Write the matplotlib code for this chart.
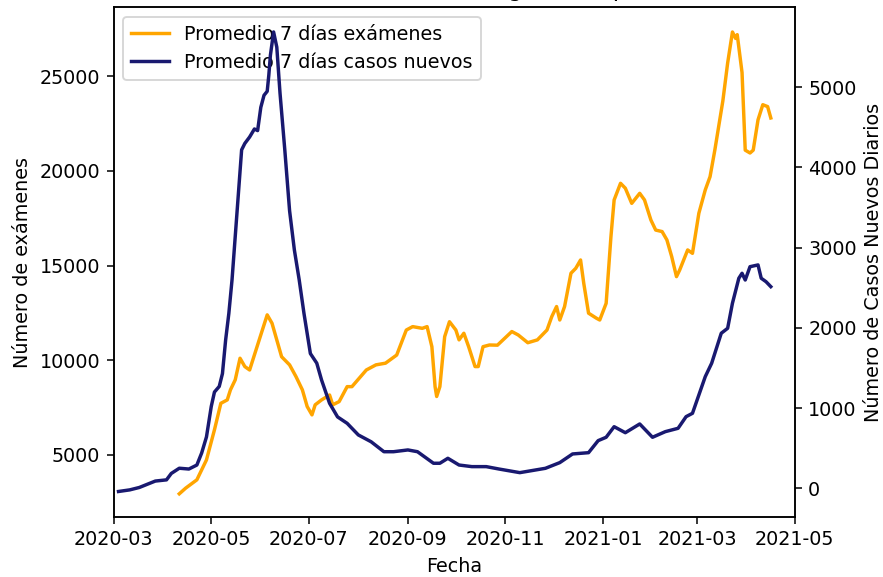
import pandas as pd
import matplotlib
matplotlib.use('Agg')
from matplotlib import pyplot as plt
import matplotlib.dates as mdates

# promedio 7 dias examenes (eje izquierdo)
fechas_examenes = ['2020-04-11', '2020-04-15', '2020-04-22', '2020-04-28', '2020-05-03', '2020-05-07',
                   '2020-05-11', '2020-05-13', '2020-05-16', '2020-05-19', '2020-05-22', '2020-05-25',
                   '2020-05-27', '2020-05-31', '2020-06-05', '2020-06-08', '2020-06-14', '2020-06-19',
                   '2020-06-23', '2020-06-27', '2020-06-30', '2020-07-03', '2020-07-05', '2020-07-09',
                   '2020-07-14', '2020-07-16', '2020-07-20', '2020-07-25', '2020-07-28', '2020-08-06',
                   '2020-08-12', '2020-08-18', '2020-08-25', '2020-08-31', '2020-09-04', '2020-09-10',
                   '2020-09-13', '2020-09-16', '2020-09-18', '2020-09-19', '2020-09-21', '2020-09-24',
                   '2020-09-27', '2020-10-01', '2020-10-03', '2020-10-06', '2020-10-09', '2020-10-13',
                   '2020-10-15', '2020-10-18', '2020-10-22', '2020-10-27', '2020-11-05', '2020-11-09',
                   '2020-11-15', '2020-11-21', '2020-11-27', '2020-11-30', '2020-12-03', '2020-12-05',
                   '2020-12-08', '2020-12-12', '2020-12-15', '2020-12-18', '2020-12-20', '2020-12-23',
                   '2020-12-28', '2020-12-30', '2021-01-03', '2021-01-06', '2021-01-08', '2021-01-12',
                   '2021-01-15', '2021-01-19', '2021-01-24', '2021-01-27', '2021-01-31', '2021-02-03',
                   '2021-02-07', '2021-02-10', '2021-02-13', '2021-02-16', '2021-02-18', '2021-02-23',
                   '2021-02-26', '2021-03-02', '2021-03-06', '2021-03-09', '2021-03-12', '2021-03-17',
                   '2021-03-20', '2021-03-23', '2021-03-25', '2021-03-26', '2021-03-29', '2021-03-31',
                   '2021-04-03', '2021-04-05', '2021-04-08', '2021-04-11', '2021-04-14', '2021-04-16']
examenes = [2950, 3250, 3690, 4740, 6330, 7730,
            7910, 8440, 8970, 10110, 9670, 9490,
            10020, 11080, 12400, 11960, 10190, 9760,
            9140, 8440, 7560, 7120, 7650, 7910,
            8170, 7650, 7820, 8610, 8610, 9490,
            9760, 9850, 10280, 11600, 11780, 11690,
            11780, 10720, 8610, 8090, 8610, 11250,
            12040, 11600, 11080, 11430, 10720, 9670,
            9670, 10720, 10810, 10800, 11520, 11340,
            10930, 11080, 11600, 12310, 12840, 12130,
            12840, 14600, 14860, 15300, 14070, 12490,
            12220, 12130, 13010, 16530, 18470, 19350,
            19090, 18290, 18820, 18470, 17410, 16880,
            16800, 16360, 15480, 14420, 14770, 15830,
            15650, 17770, 19000, 19700, 21110, 23700,
            25700, 27340, 27000, 27200, 25200, 21100,
            20950, 21100, 22700, 23500, 23400, 22800]

# promedio 7 dias casos nuevos (eje derecho)
fechas_casos = ['2020-03-04', '2020-03-11', '2020-03-17', '2020-03-27', '2020-04-03', '2020-04-06',
                '2020-04-11', '2020-04-17', '2020-04-22', '2020-04-25', '2020-04-28', '2020-05-01',
                '2020-05-03', '2020-05-06', '2020-05-08', '2020-05-10', '2020-05-12', '2020-05-14',
                '2020-05-20', '2020-05-22', '2020-05-25', '2020-05-28', '2020-05-30', '2020-06-01',
                '2020-06-03', '2020-06-05', '2020-06-06', '2020-06-07', '2020-06-09', '2020-06-11',
                '2020-06-13', '2020-06-16', '2020-06-19', '2020-06-22', '2020-06-25', '2020-06-28',
                '2020-07-02', '2020-07-06', '2020-07-09', '2020-07-14', '2020-07-19', '2020-07-25',
                '2020-08-01', '2020-08-09', '2020-08-17', '2020-08-23', '2020-09-01', '2020-09-07',
                '2020-09-17', '2020-09-21', '2020-09-26', '2020-10-03', '2020-10-11', '2020-10-20',
                '2020-10-28', '2020-11-10', '2020-11-26', '2020-12-05', '2020-12-13', '2020-12-23',
                '2020-12-29', '2021-01-03', '2021-01-08', '2021-01-15', '2021-01-24', '2021-02-01',
                '2021-02-09', '2021-02-17', '2021-02-22', '2021-02-26', '2021-03-06', '2021-03-10',
                '2021-03-16', '2021-03-20', '2021-03-23', '2021-03-27', '2021-03-29', '2021-03-31',
                '2021-04-03', '2021-04-08', '2021-04-10', '2021-04-13', '2021-04-16']
casos = [-40, -20, 10, 90, 105, 185,
         250, 240, 290, 440, 640, 1020,
         1200, 1270, 1430, 1850, 2180, 2600,
         4220, 4300, 4380, 4480, 4460, 4750,
         4900, 4950, 5150, 5400, 5690, 5500,
         4930, 4220, 3460, 2970, 2600, 2180,
         1680, 1560, 1350, 1060, 890, 810,
         665, 580, 456, 456, 478, 456,
         312, 312, 374, 290, 270, 270,
         240, 195, 249, 320, 428, 444,
         594, 636, 768, 693, 802, 636,
         706, 748, 893, 935, 1392, 1559,
         1933, 1995, 2307, 2619, 2681, 2597,
         2763, 2785, 2619, 2576, 2514]

fig = plt.figure(figsize=(883 / 137.5, 577 / 137.5), dpi=137.5)
ax = fig.add_subplot(111)
fig.subplots_adjust(left=0.1288, right=0.9001, bottom=0.104, top=0.9873)

l1, = ax.plot(pd.to_datetime(fechas_examenes), examenes, color='orange', linewidth=1.8,
              label='Promedio 7 días exámenes')
ax.set_ylabel('Número de exámenes')
ax.set_xlabel('Fecha')
ax.set_ylim(1726, 28643)
# el titulo queda casi fuera de la figura, como en la captura original
ax.set_title('Exámenes vs casos: Región Tarapacá')

ax2 = ax.twinx()
l2, = ax2.plot(pd.to_datetime(fechas_casos), casos, color='midnightblue', linewidth=1.8,
               label='Promedio 7 días casos nuevos')
ax2.set_ylabel('Número de Casos Nuevos Diarios')
ax2.set_ylim(-358, 5997)

ax.set_xlim(pd.Timestamp('2020-03-01'), pd.Timestamp('2021-05-01'))
ax.xaxis.set_major_locator(mdates.MonthLocator(bymonth=[1, 3, 5, 7, 9, 11]))
ax.xaxis.set_major_formatter(mdates.DateFormatter('%Y-%m'))

ax.legend(handles=[l1, l2], loc='upper left')

plt.savefig('out.png', dpi=137.5)
